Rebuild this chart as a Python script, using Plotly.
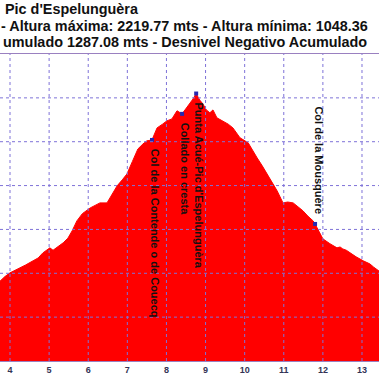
import plotly.graph_objects as go

# Distance (km) and elevation (m) read from the profile
dist_km = [3.60, 3.74, 3.87, 4.00, 4.13, 4.26, 4.40, 4.59, 4.72, 4.84, 4.95, 5.02, 5.10, 5.15, 5.25,
           5.36, 5.48, 5.59, 5.71, 5.85, 6.05, 6.18, 6.30, 6.48, 6.60, 6.74, 6.87, 6.99, 7.13,
           7.27, 7.40, 7.50, 7.63, 7.76, 7.90, 8.01, 8.14, 8.27, 8.40, 8.50, 8.60, 8.68, 8.76,
           8.85, 8.93, 9.02, 9.11, 9.19, 9.29, 9.45, 9.58, 9.70, 9.80, 9.88, 10.09, 10.20, 10.32,
           10.45, 10.57, 10.70, 10.83, 10.98, 11.10, 11.24, 11.36, 11.49, 11.62, 11.75, 11.80,
           11.90, 12.00, 12.18, 12.36, 12.44, 12.51, 12.60, 12.69, 12.85, 13.03, 13.10, 13.20,
           13.30, 13.43, 13.55]
elev_m = [1340, 1365, 1385, 1402, 1413, 1425, 1438, 1457, 1470, 1493, 1505, 1516, 1505, 1511, 1525,
          1539, 1560, 1594, 1639, 1672, 1698, 1712, 1721, 1721, 1760, 1799, 1826, 1853, 1910,
          1967, 1990, 2004, 2008, 2063, 2080, 2095, 2104, 2141, 2127, 2150, 2173, 2195, 2219.77,
          2190, 2173, 2145, 2132, 2145, 2109, 2095, 2080, 2063, 2040, 2018, 1995, 1960, 1926,
          1890, 1853, 1815, 1776, 1721, 1725, 1721, 1705, 1685, 1660, 1639, 1625,
          1590, 1557, 1535, 1516, 1520, 1511, 1505, 1493, 1475, 1457, 1452, 1443,
          1428, 1411, 1395]

# Waypoints
wp_names = ["Col de la Contende o de Couecq", "Collado en cresta",
            "Punta Acué-Pic d'Espelunguèra", "Col de la Mousquère"]
wp_km = [7.63, 8.40, 8.76, 11.80]
wp_elev = [2008, 2127, 2219.77, 1625]
wp_label_km = [7.71, 8.48, 8.84, 11.91]
wp_label_elev = [1584, 1876, 1799, 1913]

# Axis ticks / grid values
x_ticks = [4, 5, 6, 7, 8, 9, 10, 11, 12, 13]
x_tick_labels = ["4", "5", "6", "7", "8", "9", "10", "11", "12", "13"]
y_grid = [1200, 1400, 1600, 1800, 2000, 2200]

title_lines = ["Pic d'Espelunguèra",
               "- Altura máxima: 2219.77 mts - Altura mínima: 1048.36",
               "umulado 1287.08 mts - Desnivel Negativo Acumulado"]

W, H = 379, 379
top, bottom = 54, 18
ph = H - top - bottom

def py(y):
    return (H - bottom - y) / ph

fig = go.Figure()
fig.add_trace(go.Scatter(x=dist_km, y=elev_m, mode="lines", fill="tozeroy",
                         line=dict(color="#FF0000", width=1), fillcolor="#FF0000",
                         hoverinfo="skip", showlegend=False))
fig.add_trace(go.Scatter(x=wp_km, y=wp_elev, mode="markers",
                         marker=dict(color="#2828B0", size=4, symbol="square"),
                         hoverinfo="skip", showlegend=False))

grid_col = "#7E72D8"
for xv in x_ticks:
    fig.add_shape(type="line", xref="x", yref="paper", x0=xv, x1=xv, y0=0, y1=1,
                  line=dict(color=grid_col, width=1, dash="dot"), layer="above")
for yv in y_grid:
    fig.add_shape(type="line", xref="paper", yref="y", x0=0, x1=1, y0=yv, y1=yv,
                  line=dict(color=grid_col, width=1, dash="dot"), layer="above")

font_fam = "Liberation Sans, Arial, sans-serif"
ann = []
for name, xk, ye in zip(wp_names, wp_label_km, wp_label_elev):
    ann.append(dict(x=xk, y=ye, xref="x", yref="y", text="<b>" + name + "</b>", showarrow=False,
                    textangle=90, font=dict(family=font_fam, size=11, color="#111111")))

title_x = [3, -1, 1]
title_y = [9.5, 26.5, 42.5]
for t, xp, yp in zip(title_lines, title_x, title_y):
    ann.append(dict(x=xp / W, y=py(yp), xref="paper", yref="paper", text="<b>" + t + "</b>",
                    showarrow=False, xanchor="left", yanchor="middle",
                    font=dict(family=font_fam, size=14.4, color="#111111")))

fig.update_layout(
    width=W, height=H,
    margin=dict(l=0, r=0, t=top, b=bottom, pad=0),
    plot_bgcolor="white", paper_bgcolor="white",
    annotations=ann,
    xaxis=dict(range=[3.744, 13.435], tickvals=x_ticks,
               ticktext=["<b>" + s + "</b>" for s in x_tick_labels],
               showgrid=False, zeroline=False, showline=True, linecolor="#9A80C0",
               linewidth=1, mirror=True, ticks="", layer="above traces",
               tickfont=dict(family=font_fam, size=9, color="#333355")),
    yaxis=dict(range=[1000, 2400], showgrid=False, zeroline=False, showticklabels=False,
               showline=False),
)

fig.write_html("out.html", config={"displayModeBar": False},
               post_script="document.body.style.margin='0';document.body.style.overflow='hidden';")
